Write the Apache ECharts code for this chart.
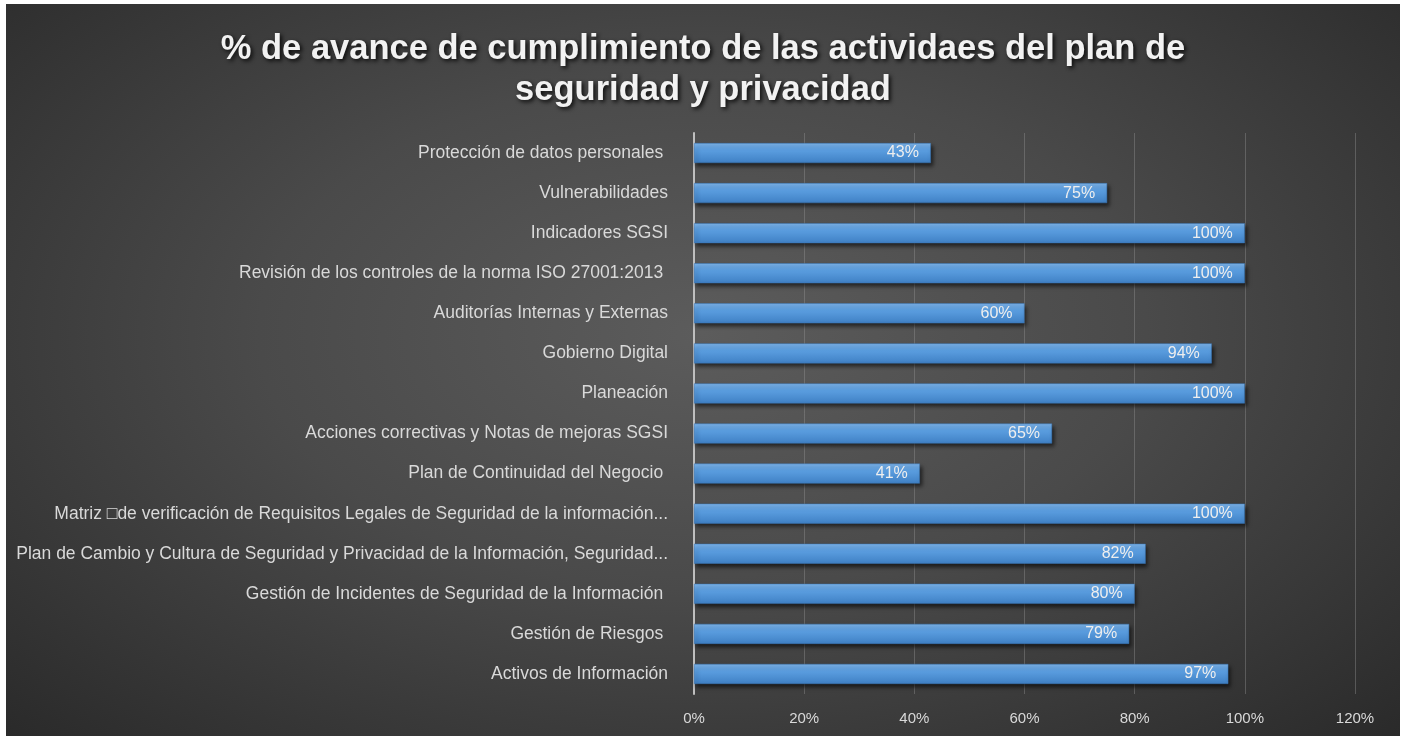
<!DOCTYPE html>
<html>
<head>
<meta charset="utf-8">
<script src="https://cdn.jsdelivr.net/npm/echarts@6/dist/echarts.min.js"></script>
<style>
html,body{margin:0;padding:0;background:#ffffff;}
#chart{position:absolute;left:6px;top:4px;width:1394px;height:732px;
background:radial-gradient(ellipse at 50% 45%, #5c5c5c 0%, #4a4a4a 45%, #2a2a2a 100%);}
</style>
</head>
<body>
<div id="chart"></div>
<script>
const titleText = "% de avance de cumplimiento de las actividaes del plan de\nseguridad y privacidad";
const categories = [
  "Protección de datos personales ",
  "Vulnerabilidades",
  "Indicadores SGSI",
  "Revisión de los controles de la norma ISO 27001:2013 ",
  "Auditorías Internas y Externas",
  "Gobierno Digital",
  "Planeación",
  "Acciones correctivas y Notas de mejoras SGSI",
  "Plan de Continuidad del Negocio ",
  "Matriz \u25A1de verificación de Requisitos Legales de Seguridad de la información...",
  "Plan de Cambio y Cultura de Seguridad y Privacidad de la Información, Seguridad...",
  "Gestión de Incidentes de Seguridad de la Información ",
  "Gestión de Riesgos ",
  "Activos de Información"
];
const values = [43, 75, 100, 100, 60, 94, 100, 65, 41, 100, 82, 80, 79, 97];
const xTicks = [0, 20, 40, 60, 80, 100, 120];

const chart = echarts.init(document.getElementById('chart'), null, {renderer: 'canvas'});
chart.setOption({
  backgroundColor: 'transparent',
  animation: false,
  title: {
    text: titleText,
    left: 'center',
    top: 20,
    textStyle: {
      color: '#f2f2f2',
      fontFamily: 'Liberation Sans, sans-serif',
      fontWeight: 'bold',
      fontSize: 34.5,
      lineHeight: 41,
      textShadowColor: 'rgba(0,0,0,0.85)',
      textShadowBlur: 4,
      textShadowOffsetX: 2,
      textShadowOffsetY: 2
    }
  },
  grid: {
    left: 688,
    right: 45,
    top: 129,
    bottom: 42,
    containLabel: false
  },
  xAxis: {
    type: 'value',
    min: xTicks[0],
    max: xTicks[xTicks.length - 1],
    interval: 20,
    axisLine: {show: false},
    axisTick: {show: false},
    splitLine: {show: true, lineStyle: {color: 'rgba(150,150,150,0.4)', width: 1}},
    axisLabel: {
      color: '#d9d9d9',
      fontSize: 15,
      fontFamily: 'Liberation Sans, sans-serif',
      margin: 17,
      formatter: v => v + '%'
    }
  },
  yAxis: {
    type: 'category',
    data: categories,
    inverse: true,
    axisLine: {show: true, lineStyle: {color: '#bfbfbf', width: 2}},
    axisTick: {show: false},
    axisLabel: {
      color: '#d9d9d9',
      fontSize: 17.5,
      fontFamily: 'Liberation Sans, sans-serif',
      margin: 26
    }
  },
  series: [{
    type: 'bar',
    data: values,
    barWidth: 20,
    itemStyle: {
      color: new echarts.graphic.LinearGradient(0, 0, 0, 1, [
        {offset: 0, color: '#7db4ea'},
        {offset: 0.35, color: '#5b9ee0'},
        {offset: 1, color: '#3f80c4'}
      ]),
      borderColor: '#3a77b6',
      borderWidth: 0.5,
      shadowColor: 'rgba(0,0,0,0.6)',
      shadowBlur: 4,
      shadowOffsetX: 2,
      shadowOffsetY: 3
    },
    label: {
      show: true,
      position: 'insideRight',
      distance: 12,
      color: '#eeeeee',
      fontSize: 16,
      fontFamily: 'Liberation Sans, sans-serif',
      formatter: p => p.value + '%'
    }
  }]
});
</script>
</body>
</html>
